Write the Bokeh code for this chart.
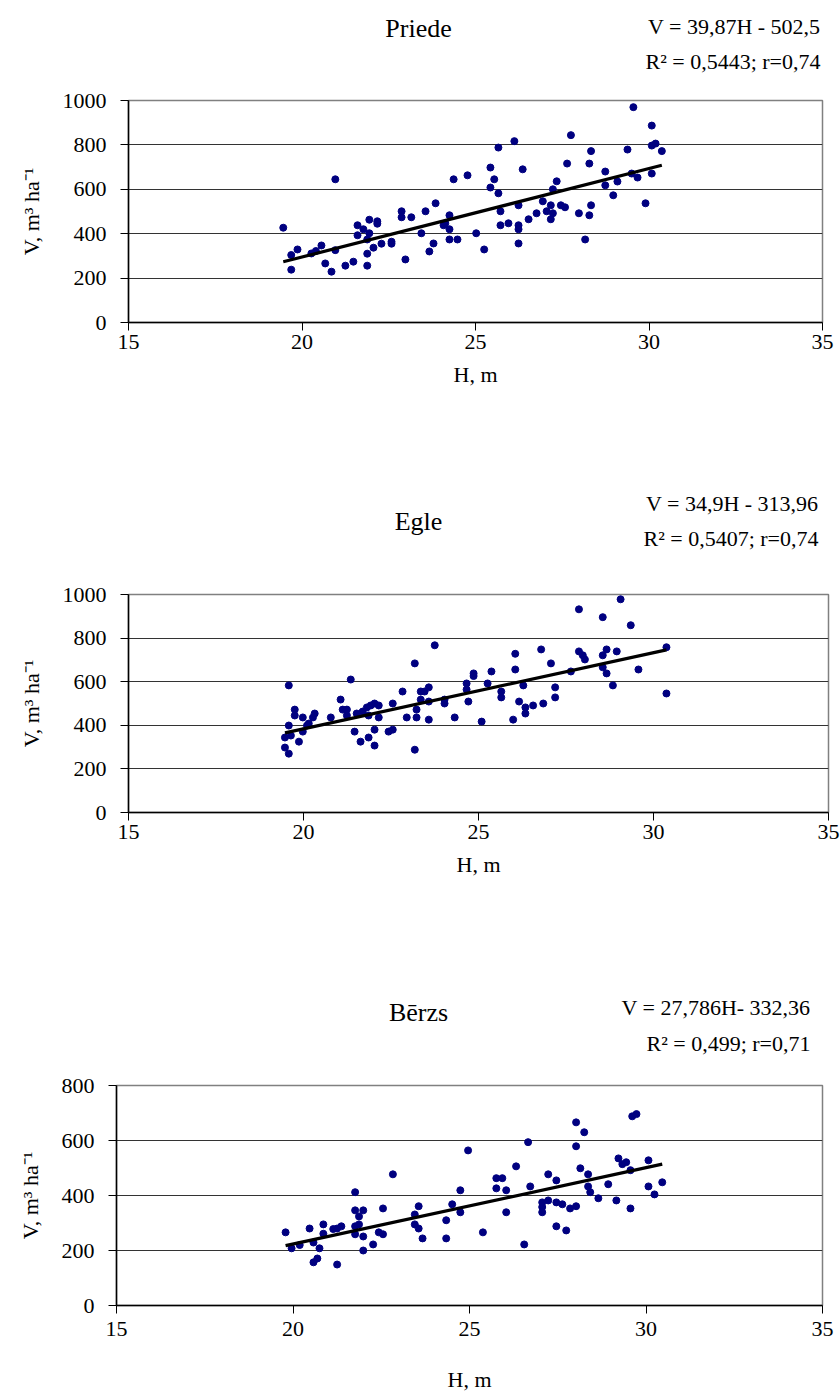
from bokeh.plotting import figure
from bokeh.models import Range1d, FixedTicker
from bokeh.core.properties import value
from bokeh.layouts import column
from bokeh.embed import file_html
from bokeh.resources import INLINE

# ---------------- data ----------------
priede_h = [19.46, 19.69, 19.69, 19.87, 20.27, 20.40, 20.56, 20.67, 20.85, 20.96,
            20.96, 21.25, 21.48, 21.60, 21.60, 21.77, 21.88, 21.94, 21.94, 21.88,
            21.88, 22.06, 22.17, 22.17, 22.29, 22.58, 22.58, 22.87, 22.87, 22.98,
            23.15, 23.44, 23.56, 23.67, 23.79, 23.85, 24.08, 24.13, 24.25, 24.25,
            24.25, 24.37, 24.48, 24.77,
            25.02, 25.25, 25.43, 25.43, 25.54, 25.66, 25.66, 25.72, 25.72, 25.95,
            26.12, 26.24, 26.24, 26.24, 26.24, 26.36, 26.53, 26.76, 26.94, 27.05,
            27.17, 27.17, 27.23, 27.23, 27.34, 27.46, 27.58, 27.64, 27.75, 27.98,
            28.16, 28.28, 28.28, 28.33, 28.33, 28.74, 28.74, 28.97, 29.09, 29.38,
            29.50, 29.55, 29.67, 29.90, 30.08, 30.08, 30.08, 30.19, 30.37]
priede_v = [427, 304, 238, 329, 311, 322, 347, 266, 229, 645,
            326, 256, 274, 438, 393, 420, 374, 463, 402, 310,
            256, 337, 456, 445, 355, 364, 355, 501, 474, 284,
            474, 402, 501, 320, 356, 537, 438, 447, 483, 420,
            374, 645, 374, 663,
            402, 329, 698, 608, 645, 788, 582, 501, 438, 447,
            817, 528, 438, 420, 356, 690, 465, 492, 546, 501,
            528, 465, 600, 492, 636, 528, 519, 716, 844, 492,
            374, 716, 483, 772, 528, 680, 618, 573, 635, 779,
            671, 970, 653, 537, 887, 797, 671, 806, 772]

egle_h = [19.47, 19.47, 19.58, 19.58, 19.58, 19.64, 19.75, 19.75, 19.87, 19.98,
          19.98, 20.10, 20.15, 20.27, 20.32, 20.78, 21.06, 21.12, 21.24, 21.24,
          21.35, 21.46, 21.52, 21.63, 21.69, 21.81, 21.86, 21.86, 21.92, 22.03,
          22.03, 22.03, 22.15, 22.15, 22.43, 22.55, 22.55, 22.83, 22.95, 23.18,
          23.18, 23.23, 23.23, 23.35, 23.35, 23.46, 23.58, 23.58, 23.58, 23.75,
          24.03, 24.03, 24.32, 24.66, 24.66, 24.71,
          24.86, 24.86, 25.09, 25.26, 25.37, 25.65, 25.65, 25.99, 26.05, 26.05,
          26.16, 26.28, 26.34, 26.34, 26.56, 26.79, 26.85, 27.07, 27.19, 27.19,
          27.64, 27.87, 27.87, 27.98, 28.04, 28.55, 28.55, 28.55, 28.66, 28.66,
          28.84, 28.95, 29.06, 29.35, 29.57, 30.37, 30.37]
egle_v = [344, 298, 583, 399, 270, 353, 472, 445, 325, 436,
          371, 399, 408, 436, 454, 436, 518, 472, 472, 445,
          610, 371, 454, 325, 463, 482, 445, 344, 491, 500,
          380, 307, 491, 436, 371, 500, 380, 555, 436, 684,
          288, 472, 436, 518, 555, 555, 574, 509, 426, 767,
          518, 500, 436, 592, 564, 509,
          638, 626, 417, 592, 647, 555, 528, 426, 728, 656,
          509, 583, 482, 454, 491, 748, 500, 684, 574, 528,
          647, 932, 739, 721, 702, 896, 721, 666, 748, 638,
          583, 739, 978, 859, 656, 758, 546]

berzs_h = [19.79, 19.96, 20.19, 20.47, 20.58, 20.58, 20.69, 20.75, 20.86, 20.86,
           21.14, 21.25, 21.37, 21.25, 21.76, 21.76, 21.87, 21.99, 21.76, 21.87,
           21.76, 21.99, 21.99, 22.27, 22.43, 22.55, 22.55, 22.83, 23.45, 23.45,
           23.56, 23.56, 23.67, 24.34, 24.34, 24.51, 24.74, 24.74, 24.96,
           25.38, 25.76, 25.93, 25.76, 26.04, 26.04, 26.32, 26.55, 26.66, 26.72,
           27.06, 27.06, 27.06, 27.23, 27.23, 27.46, 27.46, 27.63, 27.46, 27.74,
           27.85, 28.02, 28.02, 28.02, 28.25, 28.14, 28.36, 28.36, 28.42, 28.65,
           28.93, 29.16, 29.22, 29.33, 29.44, 29.56, 29.56, 29.61, 29.73, 30.07,
           30.07, 30.24, 30.46]
berzs_v = [266, 208, 220, 280, 229, 157, 171, 208, 295, 261,
           278, 280, 288, 149, 412, 346, 324, 346, 288, 295,
           259, 251, 200, 222, 266, 259, 353, 477, 331, 295,
           361, 280, 244, 310, 244, 368, 419, 339, 564,
           266, 463, 463, 426, 419, 339, 506, 222, 594, 433,
           375, 358, 339, 382, 477, 455, 375, 368, 288, 273,
           353, 361, 666, 579, 630, 499, 477, 433, 412, 390,
           441, 382, 535, 514, 521, 492, 353, 688, 696, 528,
           433, 404, 448]

# regression coefficients shown on the chart
priede_fit = (39.87, -502.5)
egle_fit = (34.9, -313.96)
berzs_fit = (27.786, -332.36)

titles = ["Priede", "Egle", "Bērzs"]
eq1 = ["V = 39,87H - 502,5", "V = 34,9H - 313,96", "V = 27,786H- 332,36"]
eq2 = ["R² = 0,5443; r=0,74", "R² = 0,5407; r=0,74", "R² = 0,499; r=0,71"]
x_ticks = [15, 20, 25, 30, 35]
y_ticks_a = [0, 200, 400, 600, 800, 1000]
y_ticks_b = [0, 200, 400, 600, 800]
x_label = "H, m"
y_label = "V, m³ ha⁻¹"

FONT = "Liberation Serif"
DOT = "#000080"


def header(fw, hh, left, right, title, e1, e2, title_pos, e1_pos, e2_pos):
    h = figure(frame_width=fw, frame_height=hh, output_backend="svg", toolbar_location=None,
               x_range=Range1d(0, fw), y_range=Range1d(0, hh),
               x_axis_type=None, y_axis_type=None,
               min_border_left=left, min_border_right=right,
               min_border_top=0, min_border_bottom=0)
    h.outline_line_color = None
    h.background_fill_color = "white"
    h.border_fill_color = "white"
    h.grid.visible = False
    h.text(x=[title_pos[0]], y=[title_pos[1]], text=[title], text_align="center",
           text_baseline="middle", text_font=value(FONT), text_font_size="26px",
           text_color="black")
    h.text(x=[e1_pos[0], e2_pos[0]], y=[e1_pos[1], e2_pos[1]], text=[e1, e2],
           text_align="right", text_baseline="middle", text_font=value(FONT),
           text_font_size="22px", text_color="black")
    return h


def panel(h, v, fit, yticks, ymax, fw, fh, left, right, bottom, tick_standoff, xlab_standoff):
    p = figure(frame_width=fw, frame_height=fh, output_backend="svg",
               toolbar_location=None, x_range=Range1d(15, 35), y_range=Range1d(0, ymax),
               min_border_left=left, min_border_right=right,
               min_border_top=12, min_border_bottom=bottom)
    p.background_fill_color = "white"
    p.border_fill_color = "white"
    p.outline_line_color = "#808080"
    p.outline_line_width = 1.5
    p.xgrid.visible = False
    p.ygrid.ticker = FixedTicker(ticks=yticks)
    p.ygrid.grid_line_color = "#333333"
    p.ygrid.grid_line_width = 1
    for ax, ticks in ((p.xaxis[0], x_ticks), (p.yaxis[0], yticks)):
        ax.ticker = FixedTicker(ticks=ticks)
        ax.axis_line_color = "black"
        ax.axis_line_width = 1.5
        ax.major_tick_line_color = "black"
        ax.major_tick_in = 0
        ax.major_tick_out = 8
        ax.minor_tick_line_color = None
        ax.major_label_text_font = FONT
        ax.major_label_text_font_size = "22px"
        ax.major_label_text_color = "black"
        ax.axis_label_text_font = FONT
        ax.axis_label_text_font_size = "22px"
        ax.axis_label_text_font_style = "normal"
        ax.axis_label_text_color = "black"
    p.xaxis.major_label_standoff = tick_standoff
    p.yaxis.major_label_standoff = 14
    p.xaxis.axis_label = x_label
    p.xaxis.axis_label_standoff = xlab_standoff
    p.yaxis.axis_label = y_label
    p.yaxis.axis_label_standoff = 16

    p.scatter(h, v, size=7, color=DOT)
    a, b = fit
    hmin, hmax = min(h), max(h)
    p.line([hmin, hmax], [a * hmin + b, a * hmax + b], line_width=3.2, color="black")
    return p


h1 = header(694, 88, 128, 18, titles[0], eq1[0], eq2[0], (290, 60), (692, 62), (692, 27))
p1 = panel(priede_h, priede_v, priede_fit, y_ticks_a, 1000, 694, 222, 128, 18, 158, 4, 10)
h2 = header(700, 102, 128, 12, titles[1], eq1[1], eq2[1], (290, 61), (690, 79), (690, 44))
p2 = panel(egle_h, egle_v, egle_fit, y_ticks_a, 1000, 700, 218, 128, 12, 168, 4, 10)
h3 = header(706, 93, 116, 18, titles[2], eq1[2], eq2[2], (302, 61), (694, 66), (694, 30))
p3 = panel(berzs_h, berzs_v, berzs_fit, y_ticks_b, 800, 706, 220, 116, 18, 90, 8, 28)

layout = column(column(h1, p1), column(h2, p2), column(h3, p3), spacing=0)
open("out.html", "w").write(file_html(layout, INLINE))
